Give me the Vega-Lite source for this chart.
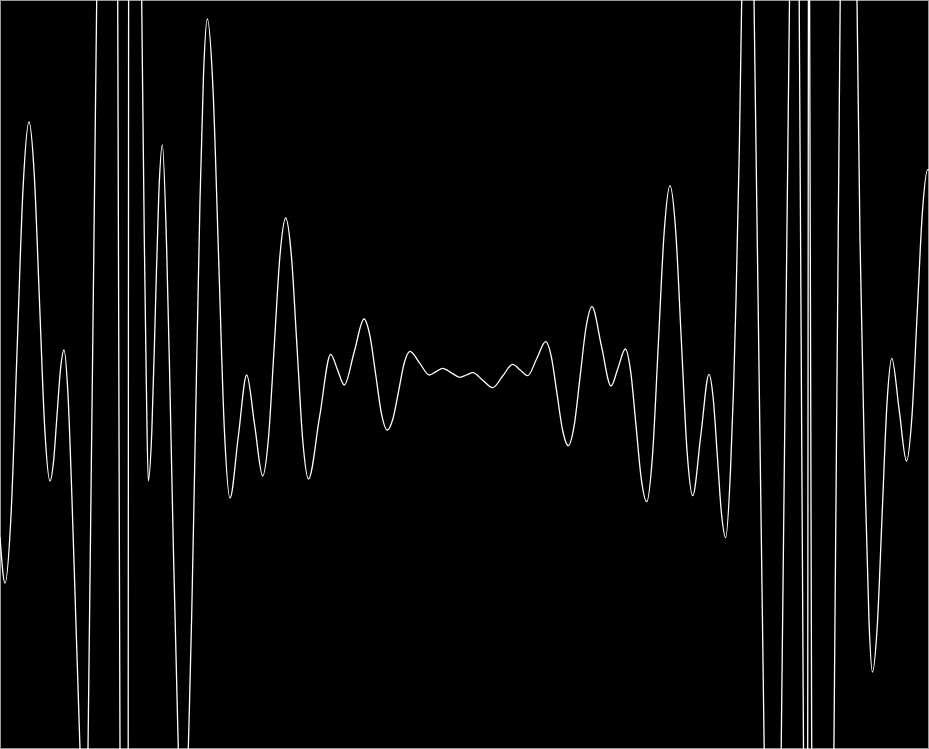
{
  "$schema": "https://vega.github.io/schema/vega-lite/v6.json",
  "width": 929,
  "height": 749,
  "autosize": {"type": "fit", "contains": "padding"},
  "padding": 0,
  "background": "#000000",
  "config": {"view": {"stroke": "#999999", "strokeWidth": 2, "fill": "#000000"}},
  "data": {"values": [
    {"x": 0, "y": -1.625}, {"x": 0.05, "y": -2.085}, {"x": 0.11, "y": -1.412}, {"x": 0.17, "y": 0.22}, {"x": 0.23, "y": 1.852}, {"x": 0.29, "y": 2.525},
    {"x": 0.3425, "y": 2.001}, {"x": 0.395, "y": 0.73}, {"x": 0.4475, "y": -0.541}, {"x": 0.5, "y": -1.065}, {"x": 0.535, "y": -0.873}, {"x": 0.57, "y": -0.41},
    {"x": 0.605, "y": 0.053}, {"x": 0.64, "y": 0.245}, {"x": 0.68, "y": -0.205}, {"x": 0.72, "y": -1.255}, {"x": 0.76, "y": -2.505}, {"x": 0.8, "y": -3.745},
    {"x": 0.857, "y": -5.735}, {"x": 0.88, "y": -3.745}, {"x": 0.924, "y": 0}, {"x": 0.967, "y": 3.745}, {"x": 1.133, "y": 18.035}, {"x": 1.177, "y": 3.745},
    {"x": 1.2, "y": -3.745}, {"x": 1.27, "y": -26.515}, {"x": 1.282, "y": -3.745}, {"x": 1.286, "y": 3.745}, {"x": 1.292, "y": 15.235}, {"x": 1.417, "y": 3.745},
    {"x": 1.443, "y": 1.355}, {"x": 1.463, "y": -0.075}, {"x": 1.483, "y": -1.065}, {"x": 1.518, "y": -0.575}, {"x": 1.553, "y": 0.615}, {"x": 1.588, "y": 1.805},
    {"x": 1.623, "y": 2.295}, {"x": 1.667, "y": 1.245}, {"x": 1.7, "y": -0.155}, {"x": 1.733, "y": -1.705}, {"x": 1.783, "y": -3.745}, {"x": 1.835, "y": -5.555},
    {"x": 1.883, "y": -3.745}, {"x": 1.917, "y": -2.405}, {"x": 1.95, "y": -0.755}, {"x": 2.0, "y": 1.745}, {"x": 2.035, "y": 2.995}, {"x": 2.073, "y": 3.555},
    {"x": 2.13, "y": 2.855}, {"x": 2.1865, "y": 1.16}, {"x": 2.243, "y": -0.535}, {"x": 2.3, "y": -1.235}, {"x": 2.383, "y": -0.62}, {"x": 2.467, "y": -0.005},
    {"x": 2.547, "y": -0.51}, {"x": 2.627, "y": -1.015}, {"x": 2.6845, "y": -0.638}, {"x": 2.742, "y": 0.275}, {"x": 2.7995, "y": 1.188}, {"x": 2.857, "y": 1.565},
    {"x": 2.914, "y": 1.185}, {"x": 2.971, "y": 0.26}, {"x": 3.028, "y": -0.665}, {"x": 3.085, "y": -1.045}, {"x": 3.196, "y": -0.422}, {"x": 3.307, "y": 0.202},
    {"x": 3.375, "y": 0.048}, {"x": 3.443, "y": -0.105}, {"x": 3.542, "y": 0.225}, {"x": 3.64, "y": 0.555}, {"x": 3.698, "y": 0.393}, {"x": 3.757, "y": 0},
    {"x": 3.815, "y": -0.393}, {"x": 3.873, "y": -0.555}, {"x": 3.93, "y": -0.44}, {"x": 3.987, "y": -0.162}, {"x": 4.043, "y": 0.117}, {"x": 4.1, "y": 0.232},
    {"x": 4.197, "y": 0.113}, {"x": 4.293, "y": -0.005}, {"x": 4.36, "y": 0.028}, {"x": 4.427, "y": 0.062}, {"x": 4.514, "y": 0.017}, {"x": 4.6, "y": -0.028},
    {"x": 4.664, "y": -0.005}, {"x": 4.727, "y": 0.018}, {"x": 4.827, "y": -0.057}, {"x": 4.927, "y": -0.132}, {"x": 5.027, "y": -0.015}, {"x": 5.127, "y": 0.102},
    {"x": 5.202, "y": 0.045}, {"x": 5.277, "y": -0.012}, {"x": 5.367, "y": 0.158}, {"x": 5.457, "y": 0.328}, {"x": 5.5135, "y": 0.176}, {"x": 5.57, "y": -0.192},
    {"x": 5.6265, "y": -0.56}, {"x": 5.683, "y": -0.712}, {"x": 5.742, "y": -0.509}, {"x": 5.8015, "y": -0.017}, {"x": 5.861, "y": 0.475}, {"x": 5.92, "y": 0.678},
    {"x": 6.015, "y": 0.281}, {"x": 6.11, "y": -0.115}, {"x": 6.182, "y": 0.07}, {"x": 6.253, "y": 0.255}, {"x": 6.3065, "y": 0.032}, {"x": 6.36, "y": -0.509},
    {"x": 6.4135, "y": -1.049}, {"x": 6.467, "y": -1.272}, {"x": 6.525, "y": -0.811}, {"x": 6.5835, "y": 0.308}, {"x": 6.642, "y": 1.427}, {"x": 6.7, "y": 1.888},
    {"x": 6.757, "y": 1.435}, {"x": 6.8135, "y": 0.338}, {"x": 6.87, "y": -0.759}, {"x": 6.927, "y": -1.212}, {"x": 7.0085, "y": -0.605}, {"x": 7.09, "y": 0.002},
    {"x": 7.132, "y": -0.237}, {"x": 7.1735, "y": -0.815}, {"x": 7.215, "y": -1.393}, {"x": 7.257, "y": -1.632}, {"x": 7.305, "y": -0.955}, {"x": 7.335, "y": -0.155},
    {"x": 7.36, "y": 0.745}, {"x": 7.393, "y": 2.245}, {"x": 7.417, "y": 3.745}, {"x": 7.483, "y": 7.815}, {"x": 7.54, "y": 3.745}, {"x": 7.591, "y": 0},
    {"x": 7.642, "y": -3.745}, {"x": 7.737, "y": -10.495}, {"x": 7.812, "y": -3.745}, {"x": 7.8535, "y": 0}, {"x": 7.895, "y": 3.745}, {"x": 7.959, "y": 9.495},
    {"x": 7.992, "y": 3.745}, {"x": 8.035, "y": -3.745}, {"x": 8.071, "y": -10.025}, {"x": 8.077, "y": -3.745}, {"x": 8.084, "y": 3.745}, {"x": 8.087, "y": 6.955},
    {"x": 8.096, "y": 3.745}, {"x": 8.117, "y": -3.745}, {"x": 8.1725, "y": -23.565}, {"x": 8.339, "y": -3.745}, {"x": 8.3705, "y": 0}, {"x": 8.402, "y": 3.745},
    {"x": 8.47, "y": 11.785}, {"x": 8.57, "y": 3.745}, {"x": 8.6, "y": 1.355}, {"x": 8.65, "y": -1.035}, {"x": 8.69, "y": -2.465}, {"x": 8.724, "y": -2.975},
    {"x": 8.7725, "y": -2.517}, {"x": 8.821, "y": -1.407}, {"x": 8.8695, "y": -0.296}, {"x": 8.918, "y": 0.162}, {"x": 8.9915, "y": -0.352}, {"x": 9.065, "y": -0.865},
    {"x": 9.118, "y": -0.44}, {"x": 9.171, "y": 0.592}, {"x": 9.224, "y": 1.624}, {"x": 9.277, "y": 2.049}, {"x": 9.29, "y": 2.045}
  ]},
  "mark": {"type": "line", "interpolate": "monotone", "clip": true, "color": "#ffffff", "strokeWidth": 1.3},
  "encoding": {
    "x": {"field": "x", "type": "quantitative", "axis": null, "scale": {"domain": [0, 9.29], "nice": false, "zero": false}},
    "y": {"field": "y", "type": "quantitative", "axis": null, "scale": {"domain": [-3.745, 3.745], "nice": false, "zero": false}}
  }
}
